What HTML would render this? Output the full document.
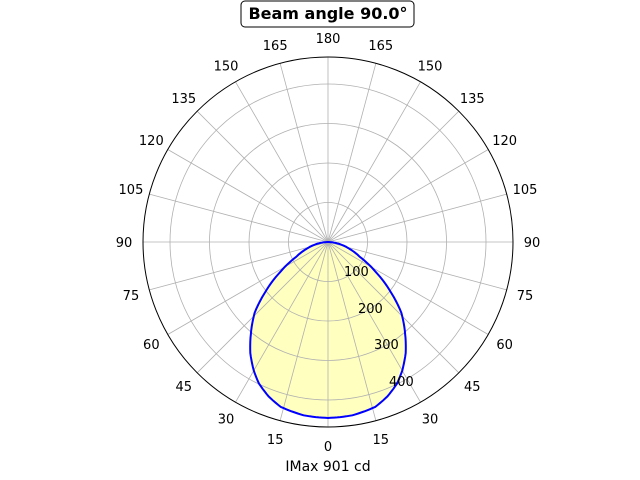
<!DOCTYPE html>
<html><head><meta charset="utf-8"><style>
html,body{margin:0;padding:0;background:#fff;width:640px;height:480px;overflow:hidden}
svg text{font-family:"DejaVu Sans","Liberation Sans",sans-serif;font-size:13px;fill:#000}
</style></head><body>
<svg id="s" width="640" height="480" xmlns="http://www.w3.org/2000/svg"></svg>
<script>
var s=document.getElementById('s'),cx=328,cy=242,R=185,h='';
h+='<circle cx="'+cx+'" cy="'+cy+'" r="'+R+'" fill="#fff"/>';
var tab=[[0,176],[8,175],[16,171.5],[21,165.5],[26,157.5],[30,148.5],[35,135.5],[40,120],[46,102],[52,78],[58,56],[65,35],[72,23],[79,13],[85,5],[90,0]];
function rr(a){a=Math.abs(a);if(a>=90)return 0;for(var i=0;i<tab.length-1;i++){if(a>=tab[i][0]&&a<=tab[i+1][0]){var t=(a-tab[i][0])/(tab[i+1][0]-tab[i][0]);return tab[i][1]+t*(tab[i+1][1]-tab[i][1]);}}return 0;}
var pts=[];for(var a=-90;a<=90;a+=1){var r=rr(a),t=a*Math.PI/180;pts.push((cx+r*Math.sin(t)).toFixed(1)+','+(cy+r*Math.cos(t)).toFixed(1));}
h+='<polygon points="'+pts.join(' ')+'" fill="#ffffc0" stroke="none"/>';
for(var k=1;k<=4;k++)h+='<circle cx="'+cx+'" cy="'+cy+'" r="'+(k*39.5)+'" fill="none" stroke="#b0b0b0" stroke-width="0.8"/>';
for(var d=0;d<360;d+=15){var t=d*Math.PI/180;h+='<line x1="'+cx+'" y1="'+cy+'" x2="'+(cx+R*Math.sin(t))+'" y2="'+(cy+R*Math.cos(t))+'" stroke="#b0b0b0" stroke-width="0.8"/>';
var lab=d<=180?d:360-d;h+='<text x="'+(cx+204*Math.sin(t))+'" y="'+(cy+204*Math.cos(t)+5)+'" text-anchor="middle">'+lab+'</text>';}
h+='<polyline points="'+pts.join(' ')+'" fill="none" stroke="#0000ff" stroke-width="2"/>';
h+='<circle cx="'+cx+'" cy="'+cy+'" r="'+R+'" fill="none" stroke="#000" stroke-width="1"/>';
var rl=[[344,276,'100'],[358,313,'200'],[374,349,'300'],[389,386,'400']];
rl.forEach(function(p){h+='<text x="'+p[0]+'" y="'+p[1]+'">'+p[2]+'</text>';});
h+='<rect x="241" y="1" width="173" height="26" rx="4" fill="#fff" stroke="#000" stroke-width="1"/>';
h+='<text x="328" y="19" text-anchor="middle" style="font-size:16px;font-weight:bold">Beam angle 90.0°</text>';
h+='<text x="328" y="471" text-anchor="middle" style="font-size:14px">IMax 901 cd</text>';
s.innerHTML=h;
</script>
</body></html>
